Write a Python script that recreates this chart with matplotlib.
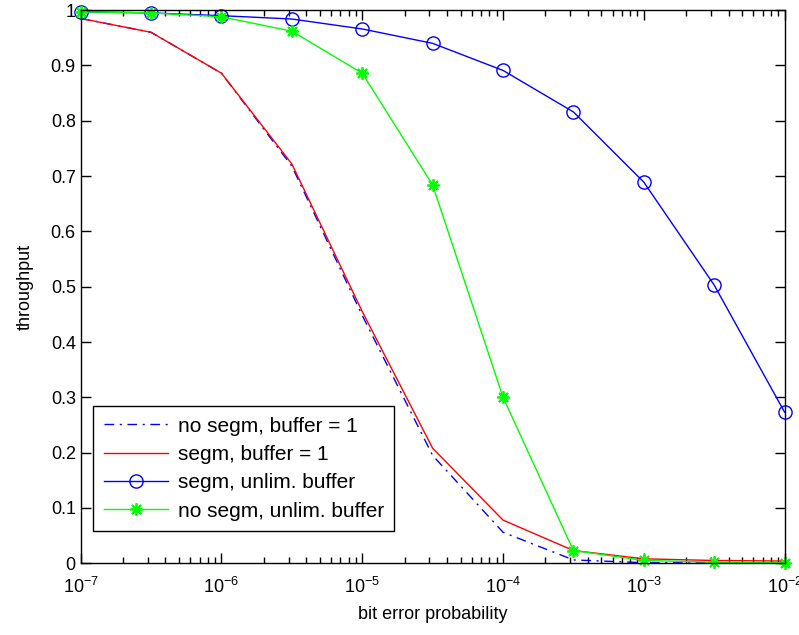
import matplotlib.pyplot as plt

plt.rcParams['font.family'] = ['Liberation Sans', 'DejaVu Sans']
plt.rcParams['mathtext.fontset'] = 'custom'
plt.rcParams['mathtext.rm'] = 'Liberation Sans'
plt.rcParams['mathtext.it'] = 'Liberation Sans'
plt.rcParams['axes.unicode_minus'] = False

# bit error probability, half-decade steps from 1e-7 to 1e-2
ber = [1e-7, 3.16e-7, 1e-6, 3.16e-6, 1e-5, 3.16e-5, 1e-4, 3.16e-4, 1e-3, 3.16e-3, 1e-2]

nosegm_buf1 = [0.985, 0.960, 0.886, 0.718, 0.448, 0.195, 0.056, 0.006, 0.001, 0.0005, 0.0002]
segm_buf1 = [0.985, 0.960, 0.886, 0.722, 0.455, 0.208, 0.078, 0.023, 0.008, 0.005, 0.004]
segm_unlim = [0.997, 0.995, 0.990, 0.984, 0.966, 0.940, 0.891, 0.816, 0.689, 0.503, 0.273]
nosegm_unlim = [0.997, 0.995, 0.988, 0.962, 0.886, 0.684, 0.300, 0.023, 0.005, 0.002, 0.001]

fig = plt.figure(figsize=(7.99, 6.35), dpi=100)
ax = fig.add_axes([0.101, 0.113, 0.881, 0.871])

ax.plot(ber, nosegm_buf1, color='#0000ff', linestyle=(0, (7, 4, 1.5, 4)), linewidth=1,
        label='no segm, buffer = 1')
ax.plot(ber, segm_buf1, color='#ff0000', linestyle='-', linewidth=1, label='segm, buffer = 1')
ax.plot(ber, segm_unlim, color='#0000ff', linewidth=1, marker='o', markersize=9.5,
        markerfacecolor='none', markeredgewidth=1, label='segm, unlim. buffer', clip_on=False)
ax.plot(ber, nosegm_unlim, color='#00ff00', linewidth=1, marker=(8, 2, 0), markersize=9,
        markeredgewidth=1.3, label='no segm, unlim. buffer', clip_on=False)

ax.set_xscale('log')
ax.set_xlim(1e-7, 1e-2)
ax.set_ylim(0, 1)
ax.set_yticks([0, 0.1, 0.2, 0.3, 0.4, 0.5, 0.6, 0.7, 0.8, 0.9, 1])
ax.set_yticklabels(['0', '0.1', '0.2', '0.3', '0.4', '0.5', '0.6', '0.7', '0.8', '0.9', '1'])
ax.tick_params(which='both', direction='in', top=True, right=True, labelsize=13, width=1)
ax.tick_params(which='major', length=7)
ax.tick_params(which='minor', length=4)
ax.tick_params(axis='x', pad=10)
for s in ax.spines.values():
    s.set_linewidth(1)

ax.set_xlabel('bit error probability', fontsize=13, labelpad=6)
ax.set_ylabel('throughput', fontsize=13, labelpad=12)

leg = ax.legend(loc='lower left', bbox_to_anchor=(0.018, 0.058), borderaxespad=0,
                fontsize=15, fancybox=False, framealpha=1, edgecolor='black',
                borderpad=0.5, handlelength=3.1, handletextpad=0.45, labelspacing=0.45)
leg.get_frame().set_linewidth(1)

fig.savefig('out.png', dpi=100)
